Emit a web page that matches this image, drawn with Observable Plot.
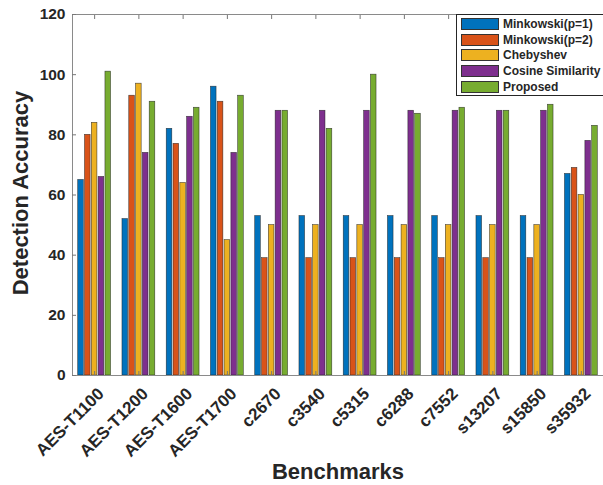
<!DOCTYPE html>
<html>
<head>
<meta charset="utf-8">
<script src="https://cdn.jsdelivr.net/npm/d3@7"></script>
<script src="https://cdn.jsdelivr.net/npm/@observablehq/plot@0.6"></script>
<style>
  html, body { margin: 0; padding: 0; background: #fff; }
  #wrap { position: relative; width: 603px; height: 485px; overflow: hidden;
          font-family: "Liberation Sans", Arial, Helvetica, sans-serif; color: #262626; }
  #legend { position: absolute; left: 456px; top: 14px; width: 160px; height: 82px;
            box-sizing: border-box; border: 1px solid #262626; background: #fff; padding-top: 1px; }
  .row { display: flex; align-items: center; height: 15.8px; }
  .sw { width: 36px; height: 10px; margin-left: 4px; margin-right: 4px; border: 1px solid #333; }
  .lab { font-size: 12px; font-weight: bold; white-space: nowrap; }
</style>
</head>
<body>
<div id="wrap"></div>
<script>
const benchmarks = ["AES-T1100","AES-T1200","AES-T1600","AES-T1700","c2670","c3540","c5315","c6288","c7552","s13207","s15850","s35932"];
const minkowski1 = [65, 52, 82, 96, 53, 53, 53, 53, 53, 53, 53, 67];
const minkowski2 = [80, 93, 77, 91, 39, 39, 39, 39, 39, 39, 39, 69];
const chebyshev  = [84, 97, 64, 45, 50, 50, 50, 50, 50, 50, 50, 60];
const cosine     = [66, 74, 86, 74, 88, 88, 88, 88, 88, 88, 88, 78];
const proposed   = [101, 91, 89, 93, 88, 82, 100, 87, 89, 88, 90, 83];
const seriesNames = ["Minkowski(p=1)", "Minkowski(p=2)", "Chebyshev", "Cosine Similarity", "Proposed"];
const seriesColors = ["#0072BD", "#D95319", "#EDB120", "#7E2F8E", "#77AC30"];
const yTicks = [0, 20, 40, 60, 80, 100, 120];
const seriesValues = [minkowski1, minkowski2, chebyshev, cosine, proposed];

// grouped-bar layout in data units (as MATLAB's bar does)
const nS = seriesNames.length;
const groupWidth = Math.min(0.8, nS / (nS + 1.5));
const slot = groupWidth / nS;
const barW = slot * 0.82;
const positions = benchmarks.map((_, i) => i + 1);

const table = [];
benchmarks.forEach((b, i) => {
  seriesNames.forEach((s, k) => {
    const c = positions[i] - groupWidth / 2 + (k + 0.5) * slot;
    table.push({bench: b, series: s, value: seriesValues[k][i], x1: c - barW / 2, x2: c + barW / 2});
  });
});

const chart = Plot.plot({
  width: 603,
  height: 485,
  marginLeft: 72,
  marginRight: 0,
  marginTop: 14,
  marginBottom: 110,
  style: {fontFamily: '"Liberation Sans", Arial, Helvetica, sans-serif', color: "#262626", background: "#fff", overflow: "visible"},
  x: {type: "linear", domain: [0.5, 12.5]},
  y: {domain: [0, 120]},
  color: {domain: seriesNames, range: seriesColors},
  marks: [
    Plot.rectY(table, {x1: "x1", x2: "x2", y: "value", fill: "series", stroke: "#1e1e1e", strokeWidth: 0.6, strokeOpacity: 0.8}),
    // axes box
    Plot.ruleY([0, 120], {stroke: "#8a8a8a", strokeWidth: 1}),
    Plot.ruleX([0.5], {stroke: "#8a8a8a", strokeWidth: 1}),
    // inward ticks
    Plot.axisX({anchor: "top", ticks: positions, tickSize: -4, fill: "none", stroke: "#777", label: null}),
    Plot.axisX({anchor: "bottom", ticks: positions, tickSize: -4, fill: "none", stroke: "#777", label: null}),
    Plot.axisY({anchor: "left", ticks: yTicks, tickSize: -4, fill: "none", stroke: "#777", label: null}),
    // tick labels
    Plot.axisY({anchor: "left", ticks: yTicks, tickSize: 0, tickPadding: 7, fontSize: 15.5, fontWeight: "bold", label: null}),
    Plot.axisX({anchor: "bottom", ticks: positions, tickFormat: d => benchmarks[d - 1], tickRotate: -45, tickSize: 0, tickPadding: 15.5, dx: 6.5, fontSize: 17, fontWeight: "bold", label: null}),
    // axis titles
    Plot.text(["Detection Accuracy"], {frameAnchor: "left", text: d => d, rotate: -90, dx: -52, dy: -2, textAnchor: "middle", lineAnchor: "middle", fontSize: 22, fontWeight: "bold"}),
    Plot.text(["Benchmarks"], {frameAnchor: "bottom", text: d => d, dy: 103, textAnchor: "middle", lineAnchor: "bottom", fontSize: 22, fontWeight: "bold"})
  ]
});

const wrap = document.getElementById("wrap");
wrap.appendChild(chart);

const legend = document.createElement("div");
legend.id = "legend";
seriesNames.forEach((s, k) => {
  const row = document.createElement("div");
  row.className = "row";
  const sw = document.createElement("span");
  sw.className = "sw";
  sw.style.background = seriesColors[k];
  const lab = document.createElement("span");
  lab.className = "lab";
  lab.textContent = s;
  row.appendChild(sw);
  row.appendChild(lab);
  legend.appendChild(row);
});
wrap.appendChild(legend);
</script>
</body>
</html>
